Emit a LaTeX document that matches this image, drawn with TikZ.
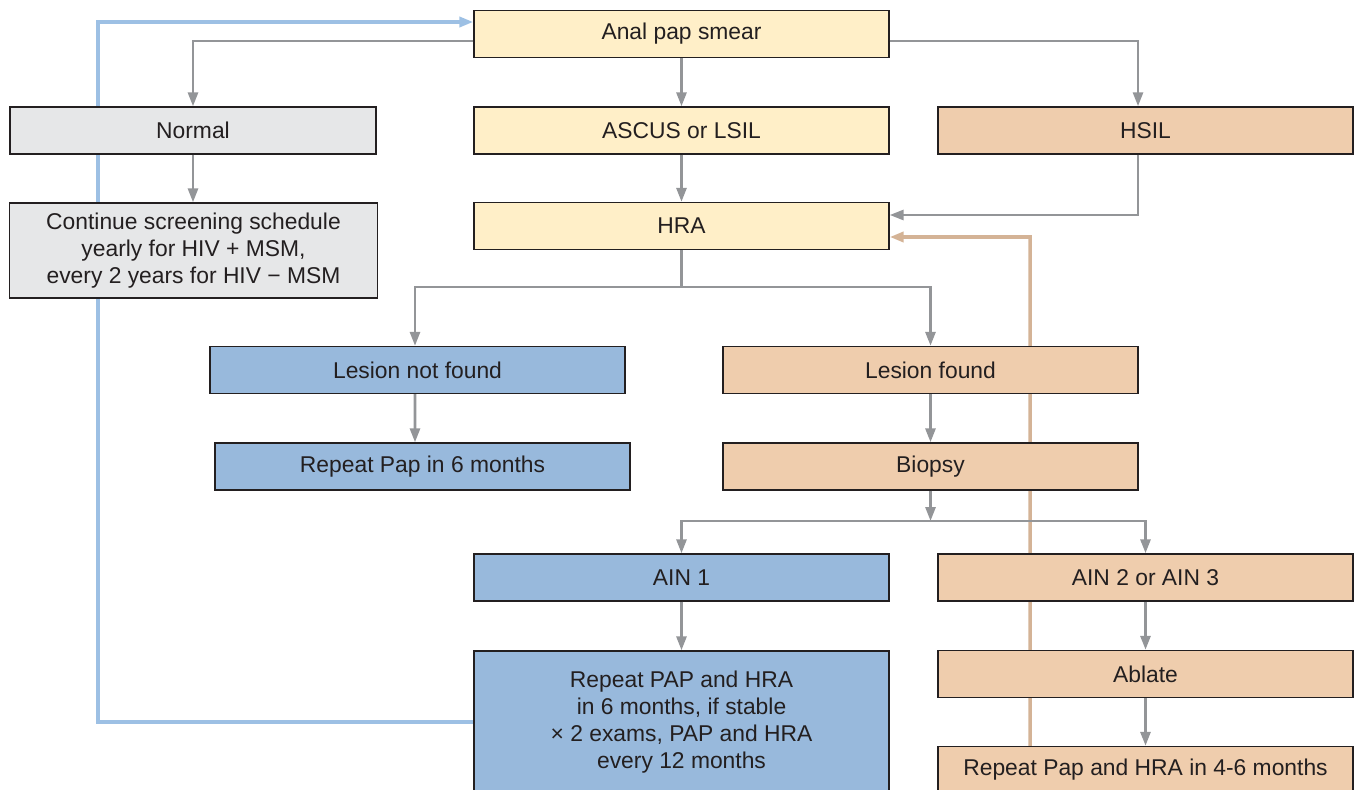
\documentclass[tikz,border=0pt]{standalone}
\usepackage{fontspec}
\setmainfont{Liberation Sans}
\usetikzlibrary{arrows.meta,backgrounds}
\definecolor{boxline}{HTML}{231F20}
\definecolor{fillyellow}{HTML}{FFEFC8}
\definecolor{fillgray}{HTML}{E6E7E8}
\definecolor{filltan}{HTML}{EFCDAD}
\definecolor{fillblue}{HTML}{98B9DC}
\definecolor{arrowgray}{HTML}{939598}
\definecolor{looptan}{HTML}{D4B396}
\definecolor{loopblue}{HTML}{9DC0E4}
\tikzset{
  box/.style={draw=boxline, line width=0.8pt, text=boxline, minimum width=8.3cm, minimum height=0.94cm,
    inner sep=0pt, align=center, font=\fontsize{13}{15.5}\selectfont},
  yellowbox/.style={box, fill=fillyellow},
  graybox/.style={box, fill=fillgray},
  tanbox/.style={box, fill=filltan},
  bluebox/.style={box, fill=fillblue},
  flow/.style={draw=arrowgray, line width=1.6pt, -{Triangle[length=0.28cm,width=0.2cm]}},
  tanflow/.style={draw=looptan, line width=2pt, -{Triangle[length=0.28cm,width=0.2cm]}},
  blueflow/.style={draw=loopblue, line width=2pt, -{Triangle[length=0.28cm,width=0.2cm]}}
}
\begin{document}
\begin{tikzpicture}[x=0.02cm, y=-0.02cm]
    \useasboundingbox (0,0) rectangle (1355,790);
    \clip (0,0) rectangle (1355,790);
    % Top rows
    \node[yellowbox] (pap) at (681.5,34) {Anal pap smear};
    \node[graybox, minimum width=7.32cm] (normal) at (193,130.5) {Normal};
    \node[yellowbox] (ascus) at (681.5,130.5) {ASCUS or LSIL};
    \node[tanbox] (hsil) at (1145.5,130.5) {HSIL};
    \node[graybox, minimum width=7.36cm, minimum height=1.9cm] (continue) at (193.5,250.5)
        {Continue screening schedule\\yearly for HIV + MSM,\\every 2 years for HIV − MSM};
    \node[yellowbox] (hra) at (681.5,226) {HRA};
    % HRA outcomes
    \node[bluebox] (nolesion) at (417.5,370) {Lesion not found};
    \node[tanbox] (lesion) at (930.5,370) {Lesion found};
    \node[bluebox] (repeatsix) at (422.5,466.5) {Repeat Pap in 6 months};
    \node[tanbox] (biopsy) at (930.5,466.5) {Biopsy};
    % Biopsy outcomes
    \node[bluebox] (ainone) at (681.5,577.5) {AIN 1};
    \node[tanbox] (aintwo) at (1145.5,577.5) {AIN 2 or AIN 3};
    \node[bluebox, minimum height=2.84cm] (repeatpap) at (681.5,722)
        {Repeat PAP and HRA\\in 6 months, if stable\\× 2 exams, PAP and HRA\\every 12 months};
    \node[tanbox] (ablate) at (1145.5,674) {Ablate};
    \node[tanbox] (repeatfour) at (1145.5,770) {Repeat Pap and HRA in 4-6 months};
    % Split points
    \coordinate (splitone) at (681.5,287);
    \coordinate (splittwo) at (930.5,521);
    \coordinate (bluecorner) at (98,22);
    \coordinate (tancorner) at (1030,237);
    % Gray arrows
    \draw[flow] ([yshift=-0.14cm]pap.west) -| (normal.north);
    \draw[flow] (pap.south) -- (ascus.north);
    \draw[flow] ([yshift=-0.14cm]pap.east) -| ([xshift=-0.15cm]hsil.north);
    \draw[flow] (normal.south) -- (normal.south |- continue.north);
    \draw[flow] (ascus.south) -- (hra.north);
    \draw[flow] ([xshift=-0.15cm]hsil.south) |- ([yshift=0.22cm]hra.east);
    \draw[draw=arrowgray, line width=1.6pt] (hra.south) -- (splitone);
    \draw[flow] (splitone) -| ([xshift=-0.05cm]nolesion.north);
    \draw[flow] (splitone) -| (lesion.north);
    \draw[flow] ([xshift=-0.05cm]nolesion.south) -- ([xshift=-0.15cm]repeatsix.north);
    \draw[flow] (lesion.south) -- (biopsy.north);
    \draw[flow] (biopsy.south) -- (splittwo);
    \draw[flow] (splittwo) -| (ainone.north);
    \draw[flow] (splittwo) -| (aintwo.north);
    \draw[flow] (ainone.south) -- (repeatpap.north);
    \draw[flow] (aintwo.south) -- (ablate.north);
    \draw[flow] (ablate.south) -- (repeatfour.north);
    % Feedback loops
    \begin{scope}[on background layer]
        \draw[blueflow] (repeatpap.west) -| (bluecorner) -- ([yshift=0.24cm]pap.west);
        \draw[tanflow] (repeatfour.north -| tancorner) -- (tancorner) -- ([yshift=-0.22cm]hra.east);
    \end{scope}
\end{tikzpicture}
\end{document}
